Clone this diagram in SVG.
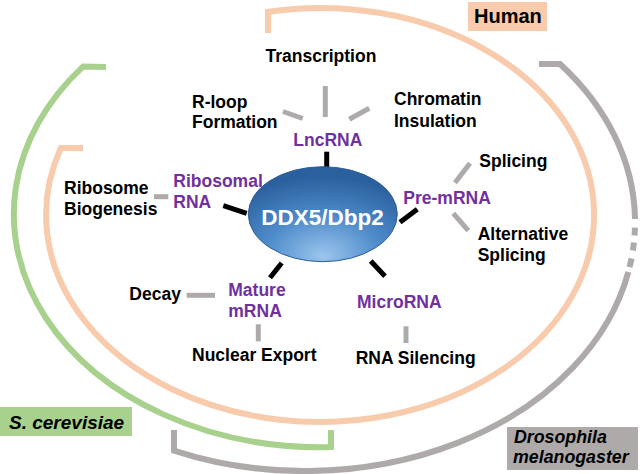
<svg xmlns="http://www.w3.org/2000/svg" width="640" height="474" viewBox="0 0 640 474">
<defs>
<radialGradient id="blueGrad" cx="0.5" cy="0.85" r="0.75" fx="0.5" fy="0.95">
<stop offset="0" stop-color="#9cc6ee"/>
<stop offset="0.5" stop-color="#4f8ccb"/>
<stop offset="1" stop-color="#2b609e"/>
</radialGradient>
<style>
.t{font-family:"Liberation Sans",Arial,sans-serif;font-weight:bold;font-size:17.5px;fill:#000}
.p{font-family:"Liberation Sans",Arial,sans-serif;font-weight:bold;font-size:17.5px;fill:#7030A0}
.lab{font-family:"Liberation Sans",Arial,sans-serif;font-weight:bold;font-style:italic;fill:#000}
.g{stroke:#AEAAAA;stroke-width:5;fill:none}
.k{stroke:#000;stroke-width:5;fill:none}
.arc{fill:none;stroke-width:6}
</style>
</defs>
<rect width="640" height="474" fill="#fff"/>

<g id="human-arc">
<path class="arc" stroke="#F8CBAD" d="M268,33 L268,11.7 A274,207 0 1,1 60.8,148 L83,148"/>
<rect x="468" y="2" width="79" height="29" fill="#F8CBAD"/>
<text x="474" y="23" class="lab" style="font-style:normal;font-size:20px">Human</text>
</g>

<g id="yeast-arc">
<path class="arc" stroke="#A9D18E" d="M106,67 L83,66.6 A306,233 0 0,0 331,447 L331,430"/>
<rect x="0" y="407" width="132" height="29" fill="#A9D18E"/>
<text x="9" y="428.7" class="lab" font-size="19">S. cerevisiae</text>
</g>

<g id="fly-arc">
<path class="arc" stroke="#AEAAAA" d="M174,430 L174,450.6 A330,249 0 0,0 628.3,272"/>
<path class="arc" stroke="#AEAAAA" stroke-dasharray="0 5 9 8 8 7 8 8" d="M628.3,272 A330,249 0 0,0 635,219"/>
<path class="arc" stroke="#AEAAAA" d="M635,219 A330,249 0 0,0 560,64 L539,64"/>
<rect x="507" y="427" width="131" height="43" fill="#AEAAAA"/>
<text x="514" y="443" class="lab" font-size="17.8">Drosophila</text>
<text x="513" y="463" class="lab" font-size="17.8">melanogaster</text>
</g>

<g id="connectors">
<line class="k" x1="326.7" y1="151.7" x2="326.7" y2="168.3"/>
<line class="k" x1="223.3" y1="205.7" x2="246.7" y2="213.3"/>
<line class="k" x1="400" y1="222.3" x2="417.3" y2="209.3"/>
<line class="k" x1="270" y1="277.7" x2="281.7" y2="263"/>
<line class="k" x1="370.7" y1="261" x2="385" y2="276.3"/>
<line class="g" x1="325.3" y1="86" x2="325.3" y2="117"/>
<line class="g" x1="283" y1="111.5" x2="302.7" y2="118.5"/>
<line class="g" x1="349.3" y1="119.3" x2="369.3" y2="108.3"/>
<line class="g" x1="455" y1="182.7" x2="470" y2="163.3"/>
<line class="g" x1="453.3" y1="213.3" x2="468.3" y2="230.7"/>
<line class="g" x1="154" y1="196.7" x2="168.3" y2="196.7"/>
<line class="g" x1="186.7" y1="295.3" x2="215" y2="295.3"/>
<line class="g" x1="258.3" y1="324.3" x2="258.3" y2="341.3"/>
<line class="g" x1="406" y1="326.3" x2="406" y2="343"/>
</g>

<g id="ddx5">
<ellipse cx="322.8" cy="214.2" rx="74.5" ry="47.5" fill="url(#blueGrad)" stroke="#2d5f96" stroke-width="1"/>
<text x="322.5" y="225" text-anchor="middle" style="font-family:'Liberation Sans',Arial,sans-serif;font-weight:bold;font-size:22.5px;fill:#fff">DDX5/Dbp2</text>
</g>

<g id="lncrna"><text x="293.3" y="145.7" class="p">LncRNA</text></g>
<g id="ribosomal-rna"><text x="173.3" y="187.3" class="p">Ribosomal</text><text x="173.3" y="208.3" class="p">RNA</text></g>
<g id="pre-mrna"><text x="403.3" y="204.3" class="p">Pre-mRNA</text></g>
<g id="mature-mrna"><text x="228.3" y="296" class="p">Mature</text><text x="228.3" y="317" class="p">mRNA</text></g>
<g id="microrna"><text x="357" y="308" class="p">MicroRNA</text></g>

<g id="transcription"><text x="265.5" y="62.3" class="t">Transcription</text></g>
<g id="r-loop"><text x="192" y="107.7" class="t">R-loop</text><text x="192" y="128.3" class="t">Formation</text></g>
<g id="chromatin"><text x="394" y="105" class="t">Chromatin</text><text x="394" y="126.7" class="t">Insulation</text></g>
<g id="ribosome"><text x="64" y="194.3" class="t">Ribosome</text><text x="64" y="215" class="t">Biogenesis</text></g>
<g id="splicing"><text x="479.3" y="167.3" class="t">Splicing</text></g>
<g id="alt-splicing"><text x="477.7" y="240.3" class="t">Alternative</text><text x="477.7" y="261.3" class="t">Splicing</text></g>
<g id="decay"><text x="129.3" y="300.3" class="t">Decay</text></g>
<g id="nuclear-export"><text x="192" y="361.3" class="t">Nuclear Export</text></g>
<g id="rna-silencing"><text x="355.7" y="363.7" class="t">RNA Silencing</text></g>
</svg>
